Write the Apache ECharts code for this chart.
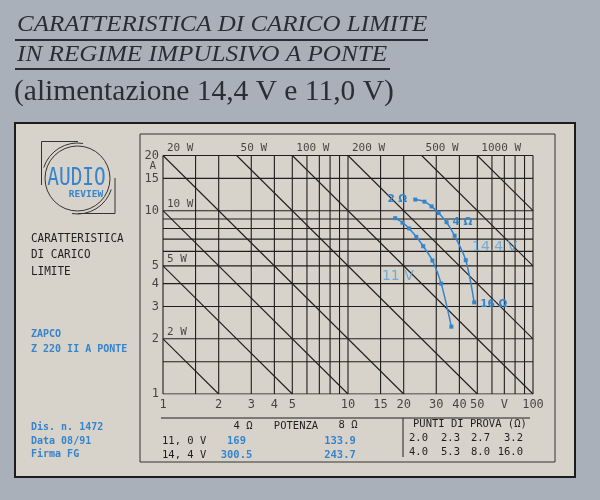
<!DOCTYPE html>
<html><head><meta charset="utf-8">
<script src="https://cdn.jsdelivr.net/npm/echarts@6/dist/echarts.min.js"></script>
<style>html,body{margin:0;padding:0;background:#a9b0b9;}#c{width:600px;height:500px;}</style>
</head><body><div id="c"></div>
<script>
// ---- data ----
const powerLines = [2, 5, 10, 20, 50, 100, 200, 500, 1000];
const powerLabels = ['2 W', '5 W', '10 W', '20 W', '50 W', '100 W', '200 W', '500 W', '1000 W'];
const vGrid = [1, 1.5, 2, 3, 4, 5, 6, 7, 8, 9, 10, 15, 20, 30, 40, 50, 60, 70, 80, 90, 100];
const hGrid = [1, 1.5, 2, 3, 4, 5, 6, 7, 8, 9, 10, 15, 20];
const xTicks = [1, 2, 3, 4, 5, 10, 15, 20, 30, 40, 50, 70, 100];
const xTickLabels = ['1', '2', '3', '4', '5', '10', '15', '20', '30', '40', '50', 'V', '100'];
const yTicks = [1, 2, 3, 4, 5, 10, 15, 20];
const yTickLabels = ['1', '2', '3', '4', '5', '10', '15', '20'];
const volts11 = [18.0, 19.7, 21.4, 23.4, 25.5, 28.6, 31.9, 36.2];
const amps11 = [9.1, 8.6, 8.0, 7.2, 6.4, 5.35, 4.0, 2.33];
const volts144 = [23.1, 25.9, 28.3, 30.9, 34.1, 37.7, 43.3, 48.1];
const amps144 = [11.5, 11.2, 10.55, 9.7, 8.65, 7.3, 5.37, 3.16];
const loadLabels144 = ['2 Ω', '', '', '', '4 Ω', '', '', '16 Ω'];
const tableSupply = ['11, 0 V', '14, 4 V'];
const tablePower4 = ['169', '300.5'];
const tablePower8 = ['133.9', '243.7'];
const testPointsRow1 = ['2.0', '2.3', '2.7', '3.2'];
const testPointsRow2 = ['4.0', '5.3', '8.0', '16.0'];

// ---- styles ----
const INK = '#1f1f1f';
const BLUE = '#3584cc';
const MONO = '"DejaVu Sans Mono", monospace';

function ends(P) {
  const a = P <= 20 ? [1, P] : [P / 20, 20];
  const b = P <= 100 ? [P, 1] : [100, P / 100];
  return [a, b];
}
const thin = { color: INK, width: 1.1 };
const series = [];
vGrid.forEach(v => series.push({ type: 'line', data: [[v, 1], [v, 20]], symbol: 'none', silent: true, lineStyle: thin, z: 2 }));
hGrid.forEach(h => series.push({ type: 'line', data: [[1, h], [100, h]], symbol: 'none', silent: true, lineStyle: thin, z: 2 }));
powerLines.forEach(P => series.push({ type: 'line', data: ends(P), symbol: 'none', silent: true, lineStyle: thin, z: 2 }));

const labelScatter = (data, label) => ({
  type: 'scatter', symbolSize: 0, silent: true, clip: false, z: 5,
  itemStyle: { color: 'transparent' }, data, label: Object.assign({ show: true, fontFamily: MONO, color: INK }, label)
});
series.push(labelScatter(powerLines.map((P, i) => ({ value: ends(P)[0], label: { formatter: powerLabels[i] } })),
  { position: 'right', distance: 4, offset: [0, -7], fontSize: 11 }));
series.push(labelScatter(xTicks.map((v, i) => ({ value: [v, 1], label: { formatter: xTickLabels[i] } })),
  { position: 'bottom', distance: 5, fontSize: 12 }));
series.push(labelScatter(yTicks.map((v, i) => ({ value: [1, v], label: { formatter: yTickLabels[i] } })),
  { position: 'left', distance: 4, fontSize: 12 }));
series.push(labelScatter([{ value: [1, 17.4], label: { formatter: 'A' } }], { position: 'left', distance: 7, fontSize: 11 }));

// curves
series.push({
  type: 'line', name: '11 V', smooth: 0.3, symbol: 'rect', symbolSize: 4, z: 6,
  data: volts11.map((v, i) => [v, amps11[i]]),
  lineStyle: { color: BLUE, width: 1.5 }, itemStyle: { color: BLUE }
});
series.push({
  type: 'line', name: '14.4 V', smooth: 0.3, symbol: 'rect', symbolSize: 4, z: 6,
  data: volts144.map((v, i) => ({
    value: [v, amps144[i]],
    label: loadLabels144[i] ? {
      show: true, formatter: loadLabels144[i], position: i === 0 ? 'left' : 'right',
      distance: i === 0 ? 6 : 4, offset: i === 7 ? [0, 2] : [0, 0],
      color: BLUE, fontWeight: 'bold', fontSize: 10.5, fontFamily: '"DejaVu Sans", sans-serif'
    } : { show: false }
  })),
  lineStyle: { color: BLUE, width: 1.5 }, itemStyle: { color: BLUE }
});
series.push(labelScatter([
  { value: [62, 6.3], label: { formatter: '14.4 V' } },
  { value: [18.6, 4.38], label: { formatter: '11 V' } }
], { position: 'inside', fontSize: 14, color: '#5a9fd8', fontFamily: '"DejaVu Sans", sans-serif' }));

// ---- graphics ----
const txt = (x, y, text, o, extra) => Object.assign({
  type: 'text', x, y, z: 1,
  style: Object.assign({ text, fill: INK, font: '11px ' + MONO, textAlign: 'left', textVerticalAlign: 'middle' }, o || {})
}, extra || {});
const line = (x1, y1, x2, y2, w, c) => ({ type: 'line', z: 1, shape: { x1, y1, x2, y2 }, style: { stroke: c || INK, lineWidth: w || 1 } });
const blueTxt = { fill: BLUE, font: 'bold 10px ' + MONO };
const tabTxt = { font: '10.5px ' + MONO };
const TITLE = '#2b2d34';

const graphic = [
  // title
  txt(17, 24.5, 'CARATTERISTICA DI CARICO LIMITE', { font: 'italic 24px "Liberation Serif", serif', fill: TITLE }, { scaleX: 1.04 }),
  line(15, 40, 428, 40, 2, TITLE),
  txt(17, 55, 'IN REGIME IMPULSIVO A PONTE', { font: 'italic 24px "Liberation Serif", serif', fill: TITLE }, { scaleX: 1.05 }),
  line(15, 69, 390, 69, 2, TITLE),
  txt(14, 92, '(alimentazione 14,4 V e 11,0 V)', { font: '29.5px "Liberation Serif", serif', fill: TITLE }),
  // panel
  { type: 'rect', z: 0, shape: { x: 15, y: 123, width: 560, height: 354 }, style: { fill: '#d8d3ca', stroke: '#1c1c1c', lineWidth: 2 } },
  { type: 'rect', z: 1, shape: { x: 140, y: 134, width: 415, height: 328 }, style: { fill: 'none', stroke: '#333', lineWidth: 1 } },
  // logo
  { type: 'circle', z: 1, shape: { cx: 77.5, cy: 178.5, r: 32.5 }, style: { fill: 'none', stroke: '#333', lineWidth: 1 } },
  { type: 'arc', z: 1, shape: { cx: 77.5, cy: 178.5, r: 35.5, startAngle: Math.PI * 1.1, endAngle: Math.PI * 1.55 }, style: { fill: 'none', stroke: '#333', lineWidth: 1 } },
  { type: 'arc', z: 1, shape: { cx: 77.5, cy: 178.5, r: 35.5, startAngle: Math.PI * 0.1, endAngle: Math.PI * 0.55 }, style: { fill: 'none', stroke: '#333', lineWidth: 1 } },
  { type: 'polyline', z: 1, shape: { points: [[78, 141.5], [41.5, 141.5], [41.5, 185]] }, style: { fill: 'none', stroke: '#333', lineWidth: 1 } },
  { type: 'polyline', z: 1, shape: { points: [[115, 178], [115, 213.5], [78, 213.5]] }, style: { fill: 'none', stroke: '#333', lineWidth: 1 } },
  { type: 'text', z: 1, x: 76.5, y: 178.5, scaleY: 1.25, style: { text: 'AUDIO', fill: BLUE, font: '19.5px ' + MONO, textAlign: 'center', textVerticalAlign: 'middle' } },
  txt(86, 195, 'REVIEW', { fill: BLUE, font: 'bold 9.5px ' + MONO, textAlign: 'center' }),
  // left texts
  txt(31, 238.7, 'CARATTERISTICA', { font: '11px ' + MONO }, { scaleY: 1.15 }),
  txt(31, 255, 'DI CARICO', { font: '11px ' + MONO }, { scaleY: 1.15 }),
  txt(31, 271.3, 'LIMITE', { font: '11px ' + MONO }, { scaleY: 1.15 }),
  txt(31, 334.7, 'ZAPCO', blueTxt),
  txt(31, 349, 'Z 220 II A PONTE', blueTxt),
  txt(31, 427.5, 'Dis. n. 1472', blueTxt),
  txt(31, 441, 'Data 08/91', blueTxt),
  txt(31, 454.5, 'Firma FG', blueTxt),
  // table
  line(161, 418, 530, 418, 1),
  line(403, 418, 403, 457, 1),
  txt(243, 426, '4 Ω', Object.assign({ textAlign: 'center' }, tabTxt)),
  txt(296, 426, 'POTENZA', Object.assign({ textAlign: 'center' }, tabTxt)),
  txt(348, 425, '8 Ω', Object.assign({ textAlign: 'center' }, tabTxt)),
  txt(413, 424, 'PUNTI DI PROVA (Ω)', tabTxt)
];
tableSupply.forEach((s, i) => {
  const y = 441 + i * 14;
  graphic.push(txt(162, y, s, tabTxt));
  graphic.push(txt(236.5, y, tablePower4[i], { fill: BLUE, font: 'bold 10.5px ' + MONO, textAlign: 'center' }));
  graphic.push(txt(340, y, tablePower8[i], { fill: BLUE, font: 'bold 10.5px ' + MONO, textAlign: 'center' }));
});
const tpRight = [428, 460, 490, 523];
testPointsRow1.forEach((t, i) => graphic.push(txt(tpRight[i], 438, t, Object.assign({ textAlign: 'right' }, tabTxt))));
testPointsRow2.forEach((t, i) => graphic.push(txt(tpRight[i], 452, t, Object.assign({ textAlign: 'right' }, tabTxt))));

const chart = echarts.init(document.getElementById('c'), null, { renderer: 'canvas' });
chart.setOption({
  backgroundColor: '#a9b0b9',
  animation: false,
  grid: { left: 163, right: 67, top: 155.5, bottom: 106 },
  xAxis: { type: 'log', logBase: 10, min: 1, max: 100, axisLine: { show: false }, axisTick: { show: false }, axisLabel: { show: false }, splitLine: { show: false } },
  yAxis: { type: 'log', logBase: 10, min: 1, max: 20, axisLine: { show: false }, axisTick: { show: false }, axisLabel: { show: false }, splitLine: { show: false } },
  graphic: graphic,
  series: series
});
</script></body></html>
